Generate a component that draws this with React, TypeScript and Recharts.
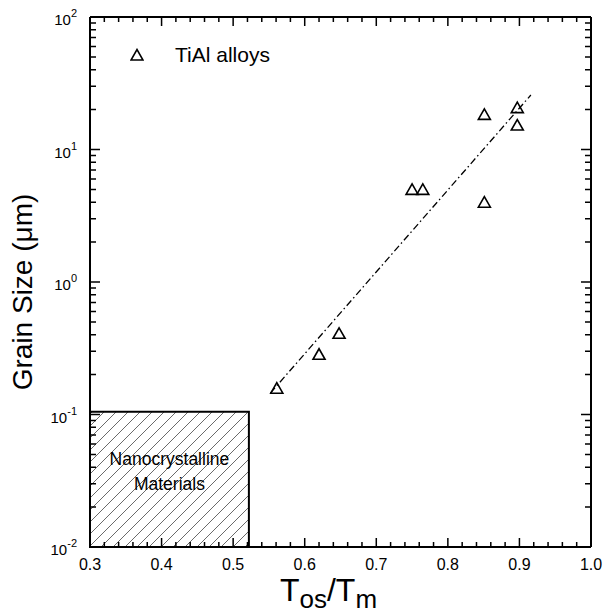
import {
  ScatterChart,
  Scatter,
  XAxis,
  YAxis,
  ReferenceArea,
  ReferenceLine,
  Legend,
} from "recharts";

const FONT = "'Liberation Sans', Arial, sans-serif";

// TiAl alloys: onset temperature ratio vs grain size (µm)
const seriesName = "TiAl alloys";
const tRatio = [0.561, 0.62, 0.648, 0.75, 0.765, 0.851, 0.851, 0.897, 0.897];
const grainSize = [0.158, 0.285, 0.41, 5.0, 5.0, 4.0, 18.4, 20.7, 15.3];

// dash-dot fit line end points
const fitX = [0.552, 0.916];
const fitY = [0.145, 25.8];

// hatched nanocrystalline region
const nanoX = [0.3, 0.522];
const nanoY = [0.01, 0.105];
const nanoLabel = ["Nanocrystalline", "Materials"];

const xMajorTicks = [0.3, 0.4, 0.5, 0.6, 0.7, 0.8, 0.9, 1.0];
const xTickLabels = ["0.3", "0.4", "0.5", "0.6", "0.7", "0.8", "0.9", "1.0"];
const yMajorTicks = [0.01, 0.1, 1, 10, 100];
const yExponents = ["-2", "-1", "0", "1", "2"];

const points = tRatio.map((t, i) => ({ x: t, y: grainSize[i] }));

// minor ticks: every 0.02 on x, 2..9 per decade on y
const xTicks: number[] = [];
for (let k = 0; k <= 35; k++) xTicks.push(Math.round((0.3 + k * 0.02) * 1000) / 1000);
const yTicks: number[] = [];
yMajorTicks.forEach((d, i) => {
  yTicks.push(d);
  if (i < yMajorTicks.length - 1) for (let m = 2; m <= 9; m++) yTicks.push(+(d * m).toPrecision(3));
});

const isXMajor = (v: number) => xMajorTicks.some((t) => Math.abs(t - v) < 1e-6);
const isYMajor = (v: number) => yMajorTicks.some((t) => Math.abs(t - v) / t < 1e-6);

const X0 = xMajorTicks[0];
const X1 = xMajorTicks[xMajorTicks.length - 1];
const Y0 = yMajorTicks[0];
const Y1 = yMajorTicks[yMajorTicks.length - 1];

// layout
const W = 604;
const H = 614;
const LEFT = 90;
const RIGHT = 13;
const TOP = 17;
const BOTTOM = 67;
const PLOT_W = W - LEFT - RIGHT;
const PLOT_H = H - TOP - BOTTOM;

// a full-span line dashed so that only both ends show: inward ticks on opposite sides
const tickDash = (span: number, len: number) => `${len} ${span - 2 * len} ${len}`;

const BottomLabel = (props: any) => {
  const x = Number(props.x);
  const y = Number(props.y);
  const v = props.payload.value as number;
  const i = xMajorTicks.findIndex((t) => Math.abs(t - v) < 1e-6);
  if (i < 0) return <g />;
  return (
    <text x={x} y={y + 23} textAnchor="middle" fontSize={16} fontFamily={FONT} fill="#000">
      {xTickLabels[i]}
    </text>
  );
};

const LeftLabel = (props: any) => {
  const x = Number(props.x);
  const y = Number(props.y);
  const v = props.payload.value as number;
  const i = yMajorTicks.findIndex((t) => Math.abs(t - v) / t < 1e-6);
  if (i < 0) return <g />;
  return (
    <text x={x - 13} y={y + 8} textAnchor="end" fontSize={15} fontFamily={FONT} fill="#000">
      <tspan>10</tspan>
      <tspan dy={-8} fontSize={11}>
        {yExponents[i]}
      </tspan>
    </text>
  );
};

const Triangle = (props: any) => {
  const { cx, cy } = props;
  if (cx == null || cy == null) return <g />;
  return (
    <path
      d={`M${cx - 6},${cy + 5} L${cx + 6},${cy + 5} L${cx},${cy - 5.5} Z`}
      fill="none"
      stroke="#000"
      strokeWidth={1.6}
    />
  );
};

const renderYLabel = (props: any) => {
  const vb = props.viewBox;
  const cx = vb.x + 32;
  const cy = vb.y + vb.height / 2 + 10;
  return (
    <text
      x={cx}
      y={cy}
      transform={`rotate(-90 ${cx} ${cy})`}
      textAnchor="middle"
      fontSize={28}
      fontFamily={FONT}
      fill="#000"
    >
      Grain Size (μm)
    </text>
  );
};

const renderXLabel = (props: any) => {
  const vb = props.viewBox;
  return (
    <text
      x={vb.x + vb.width / 2 - 12}
      y={vb.y + 54}
      textAnchor="middle"
      fontSize={32}
      fontFamily={FONT}
      fill="#000"
    >
      <tspan>T</tspan>
      <tspan fontSize={26} dy={7}>os</tspan>
      <tspan dy={-7}>/T</tspan>
      <tspan fontSize={26} dy={7}>m</tspan>
    </text>
  );
};

// the hatch pattern lives with the box label so it is inside the chart svg
const renderBoxLabel = (props: any) => {
  const vb = props.viewBox;
  const cx = vb.x + vb.width / 2;
  const cy = vb.y + vb.height / 2;
  return (
    <g>
      <defs>
        <pattern id="hatch" width={12} height={12} patternUnits="userSpaceOnUse">
          <path d="M0,12 L12,0 M-3,3 L3,-3 M9,15 L15,9" stroke="#444" strokeWidth={0.8} />
        </pattern>
      </defs>
      <text textAnchor="middle" fontSize={17.5} fontFamily={FONT} fill="#000">
        <tspan x={cx} y={cy - 14}>{nanoLabel[0]}</tspan>
        <tspan x={cx} y={cy + 11}>{nanoLabel[1]}</tspan>
      </text>
    </g>
  );
};

function LegendBox() {
  return (
    <div style={{ display: "flex", alignItems: "center", height: 26, fontFamily: FONT, fontSize: 21 }}>
      <svg width={14} height={14}>
        <path d="M1,12 L13,12 L7,1.5 Z" fill="none" stroke="#000" strokeWidth={1.6} />
      </svg>
      <span style={{ marginLeft: 31, lineHeight: "26px" }}>{seriesName}</span>
    </div>
  );
}

export default function App() {
  const axisLine = { stroke: "#000", strokeWidth: 2 };
  return (
    <div style={{ position: "absolute", left: 0, top: 0 }}>
      <ScatterChart width={W} height={H} margin={{ top: 0, right: 0, bottom: 0, left: 0 }}>
        <XAxis
          dataKey="x"
          type="number"
          domain={[X0, X1]}
          ticks={xTicks}
          interval={0}
          allowDataOverflow
          height={BOTTOM}
          axisLine={axisLine}
          tickLine={false}
          tickSize={0}
          tickMargin={0}
          tick={BottomLabel}
          label={renderXLabel}
        />
        <XAxis
          xAxisId="top"
          orientation="top"
          type="number"
          domain={[X0, X1]}
          allowDataOverflow
          height={TOP}
          axisLine={axisLine}
          tickLine={false}
          tick={false}
        />
        <YAxis
          dataKey="y"
          type="number"
          scale="log"
          domain={[Y0, Y1]}
          ticks={yTicks}
          interval={0}
          allowDataOverflow
          width={LEFT}
          axisLine={axisLine}
          tickLine={false}
          tickSize={0}
          tickMargin={0}
          tick={LeftLabel}
          label={renderYLabel}
        />
        <YAxis
          yAxisId="right"
          orientation="right"
          type="number"
          scale="log"
          domain={[Y0, Y1]}
          allowDataOverflow
          width={RIGHT}
          axisLine={axisLine}
          tickLine={false}
          tick={false}
        />
        {xTicks
          .filter((v) => v > X0 && v < X1)
          .map((v) => (
            <ReferenceLine
              key={`xt-${v}`}
              x={v}
              stroke="#000"
              strokeWidth={1.5}
              strokeDasharray={tickDash(PLOT_H, isXMajor(v) ? 9 : 5)}
            />
          ))}
        {yTicks
          .filter((v) => v > Y0 && v < Y1)
          .map((v) => (
            <ReferenceLine
              key={`yt-${v}`}
              y={v}
              stroke="#000"
              strokeWidth={1.5}
              strokeDasharray={tickDash(PLOT_W, isYMajor(v) ? 10 : 6)}
            />
          ))}
        <ReferenceArea
          x1={nanoX[0]}
          x2={nanoX[1]}
          y1={nanoY[0]}
          y2={nanoY[1]}
          fill="url(#hatch)"
          fillOpacity={1}
          stroke="#000"
          strokeWidth={2}
          ifOverflow="visible"
          label={renderBoxLabel}
        />
        <ReferenceLine
          segment={[
            { x: fitX[0], y: fitY[0] },
            { x: fitX[1], y: fitY[1] },
          ]}
          stroke="#000"
          strokeWidth={1.3}
          strokeDasharray="7 3 1.5 3"
          ifOverflow="visible"
        />
        <Scatter name={seriesName} data={points} shape={Triangle} isAnimationActive={false} />
        <Legend
          layout="horizontal"
          verticalAlign="middle"
          align="center"
          content={() => <LegendBox />}
          wrapperStyle={{ left: 130, top: 42, width: "auto", height: 26 }}
        />
      </ScatterChart>
    </div>
  );
}
